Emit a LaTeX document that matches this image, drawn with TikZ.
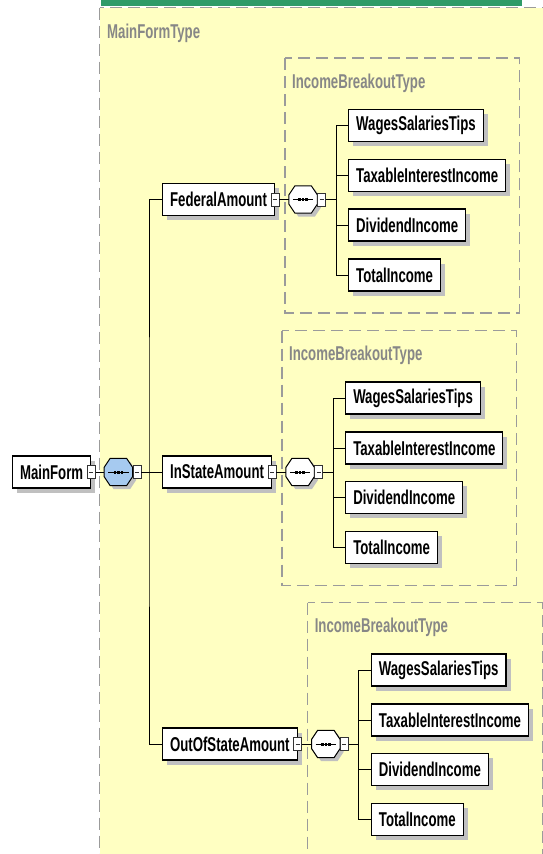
\documentclass[tikz,border=0pt]{standalone}
\usepackage{fontspec}
\setmainfont{Liberation Sans}[FakeStretch=0.66]
\usetikzlibrary{calc,shadows}
\pgfdeclarelayer{back}
\pgfdeclarelayer{mid}
\pgfsetlayers{back,mid,main}
\definecolor{yel}{RGB}{255,255,194}
\definecolor{grn}{RGB}{47,155,104}
\definecolor{dashgray}{RGB}{155,155,155}
\definecolor{labgray}{RGB}{135,135,135}
\definecolor{shgray}{RGB}{192,192,192}
\definecolor{seqblue}{RGB}{166,202,240}
\newcommand\diafont{\fontsize{20pt}{21pt}\selectfont\bfseries}
\tikzset{
 elem/.style={draw=black, line width=1.2pt, fill=white, anchor=west,
   minimum height=32pt, inner xsep=7.5pt, inner ysep=0pt, font=\diafont,
   drop shadow={shadow xshift=4.5pt, shadow yshift=-4.5pt, fill=shgray, opacity=1}},
 expander/.style={draw=black!80, line width=0.8pt, fill=white, minimum width=8pt,
   minimum height=13pt, inner sep=0pt,
   path picture={\draw[line width=0.8pt] ($(path picture bounding box.west)+(2,0)$) -- ($(path picture bounding box.east)+(-2,0)$);}},
 compbox/.style={minimum width=28pt, minimum height=27pt, inner sep=0pt, anchor=west},
 conn/.style={draw=black, line width=1pt},
 dashbox/.style={draw=dashgray, line width=1.2pt, dash pattern=on 12pt off 6pt},
 typelabel/.style={text=labgray, font=\diafont, anchor=west, inner sep=0pt},
}
\newcommand\octpath[2]{($(#1.north west)+(6+#2,#2)$) -- ($(#1.north east)+(-6+#2,#2)$) -- ($(#1.north east)+(#2,9+#2)$) -- ($(#1.south east)+(#2,-9+#2)$) -- ($(#1.south east)+(-6+#2,#2)$) -- ($(#1.south west)+(6+#2,#2)$) -- ($(#1.south west)+(#2,-9+#2)$) -- ($(#1.north west)+(#2,9+#2)$) -- cycle}
\newcommand\drawcomp[2]{%
 \fill[shgray] \octpath{#1}{3.5};
 \draw[line width=1pt, fill=#2] \octpath{#1}{0};
 \draw[line width=1pt] ($(#1.west)+(4,0)$) -- ($(#1.east)+(-4,0)$);
 \foreach \dx in {-3.5,0,3.5} \fill ($(#1.center)+(\dx-1.25,-1.5)$) rectangle ($(#1.center)+(\dx+1.25,1.5)$);
}
\newcommand\incgroup[3]{%
 \node[elem] (e#1) at (162,#3) {#2};
 \node[expander] (ex#1) at (e#1.east) {};
 \node[compbox] (c#1) at ($(ex#1.east)+(9.5,0)$) {};
 \drawcomp{c#1}{white}
 \node[expander, anchor=west] (cx#1) at (c#1.east) {};
 \coordinate (b#1) at ($(cx#1.east)+(10,0)$);
 \node[elem] (w#1) at ($(b#1)+(12,-74)$) {WagesSalariesTips};
 \node[elem] (t#1) at ($(b#1)+(12,-24)$) {TaxableInterestIncome};
 \node[elem] (d#1) at ($(b#1)+(12,25.5)$) {DividendIncome};
 \node[elem] (o#1) at ($(b#1)+(12,75.5)$) {TotalIncome};
 \draw[conn] (ex#1.east) -- (c#1.west);
 \draw[conn] (cx#1.east) -- (b#1);
 \draw[conn] (w#1.west) -| (b#1) |- (o#1.west);
 \draw[conn] (b#1 |- t#1.west) -- (t#1.west);
 \draw[conn] (b#1 |- d#1.west) -- (d#1.west);
 \begin{pgfonlayer}{mid}
 \draw[dashbox] ($(c#1.west)+(-4,-141.5)$) coordinate (tl#1) rectangle ($(t#1.east)+(13,137.5)$);
 \node[typelabel] (l#1) at ($(tl#1)+(7,25)$) {IncomeBreakoutType};
 \end{pgfonlayer}
}
\begin{document}
\begin{tikzpicture}[x=1pt, y=-1pt]
\useasboundingbox (0,0) rectangle (543,854);
\begin{pgfonlayer}{back}
 \fill[white] (0,0) rectangle (543,854);
 \fill[grn] (101,0) rectangle (522,6);
 \draw[dashbox, fill=yel] (99.5,7.5) rectangle (570,880);
\end{pgfonlayer}
\begin{pgfonlayer}{mid}
 \node[typelabel] (mft) at (107,33) {MainFormType};
\end{pgfonlayer}
\node[elem] (mf) at (12,472) {MainForm};
\node[expander] (mfx) at (mf.east) {};
\node[compbox] (c0) at ($(mfx.east)+(8.5,0)$) {};
\drawcomp{c0}{seqblue}
\node[expander, anchor=west] (c0x) at (c0.east) {};
\coordinate (b0) at (149,472);
\incgroup{1}{FederalAmount}{199.5}
\incgroup{2}{InStateAmount}{472}
\incgroup{3}{OutOfStateAmount}{744}
\draw[conn] (mfx.east) -- (c0.west);
\draw[conn] (c0x.east) -- (e2.west);
\draw[conn] (e1.west) -| (b0) |- (e3.west);
\end{tikzpicture}
\end{document}
